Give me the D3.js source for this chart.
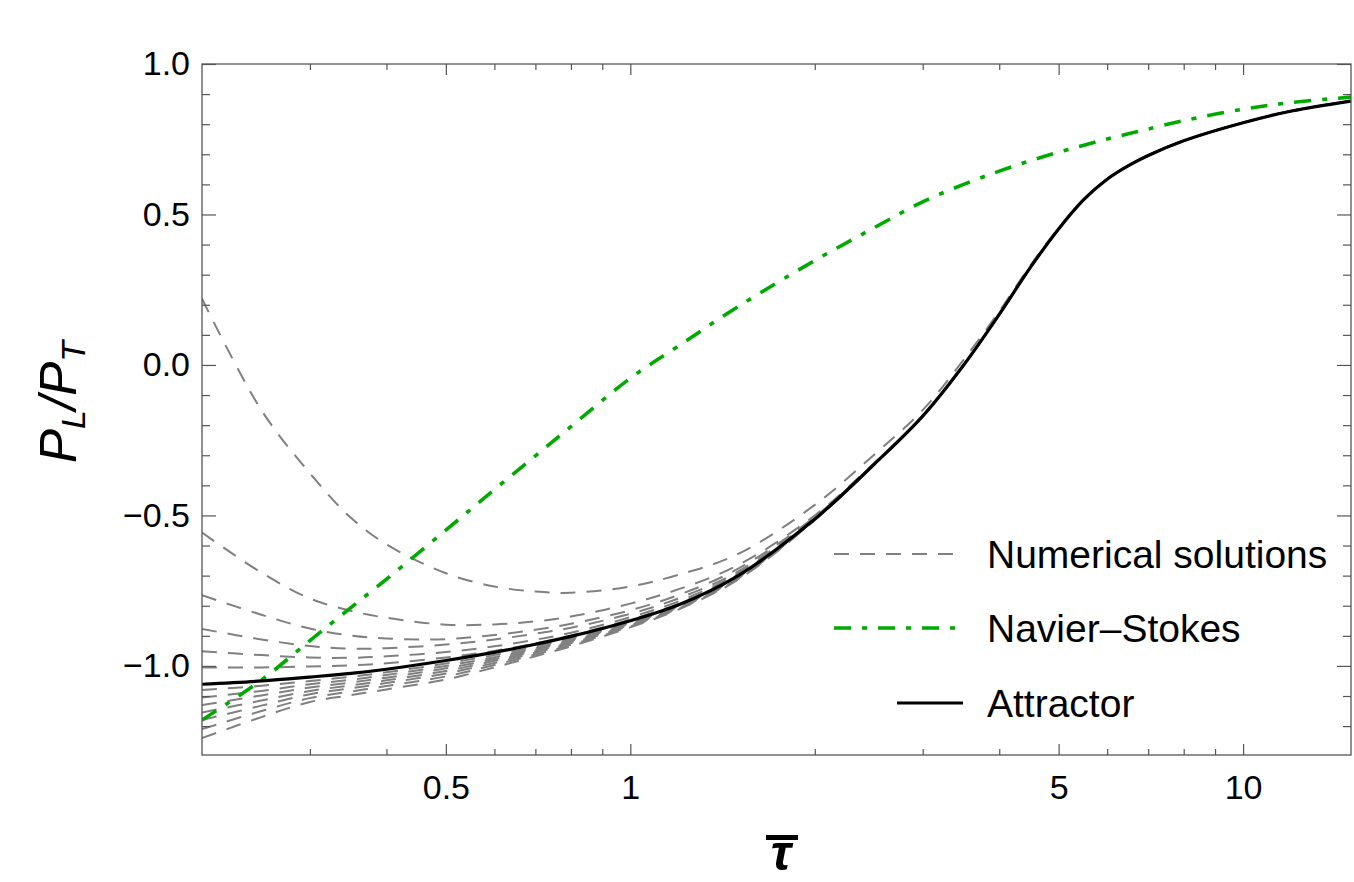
<!DOCTYPE html>
<html>
<head>
<meta charset="utf-8">
<script src="https://cdn.jsdelivr.net/npm/d3@7"></script>
<style>
  body { margin: 0; background: #fff; }
  text { font-family: "Liberation Sans", Arial, Helvetica, sans-serif; }
</style>
</head>
<body>
<div id="chart"></div>
<script>
// tau-bar sample points shared by every curve
const tauGrid = [0.2, 0.25, 0.3, 0.35, 0.4, 0.5, 0.6, 0.7, 0.8, 1, 1.2, 1.5, 2, 2.5, 3, 3.5, 4, 4.5, 5, 5.5, 6, 6.5, 7, 8, 10, 12, 15];

const attractor = [-1.061, -1.050, -1.037, -1.025, -1.011, -0.982, -0.955, -0.928, -0.902, -0.850, -0.797, -0.700,
  -0.512, -0.330, -0.170, 0.000, 0.168, 0.325, 0.452, 0.550, 0.617, 0.662, 0.696, 0.745, 0.805, 0.844, 0.877];

const navierStokes = [-1.180, -1.047, -0.916, -0.806, -0.712, -0.549, -0.414, -0.302, -0.205, -0.044, 0.064, 0.194,
  0.347, 0.456, 0.542, 0.600, 0.644, 0.679, 0.707, 0.730, 0.751, 0.768, 0.784, 0.812, 0.850, 0.872, 0.890];

// numerical solutions: early-time values, afterwards they sit on the attractor
const numericalHeads = [
  [0.220, -0.150, -0.360, -0.508, -0.596, -0.692, -0.736, -0.753, -0.757, -0.736, -0.697, -0.628, -0.465, -0.298, -0.150, 0.018, 0.178, 0.332, 0.455, 0.552, 0.618],
  [-0.557, -0.690, -0.776, -0.817, -0.840, -0.863, -0.862, -0.852, -0.836, -0.793, -0.745, -0.665, -0.500, -0.326],
  [-0.765, -0.830, -0.876, -0.899, -0.909, -0.911, -0.897, -0.880, -0.860, -0.815, -0.764, -0.677, -0.505],
  [-0.877, -0.912, -0.934, -0.943, -0.941, -0.929, -0.912, -0.893, -0.873, -0.827, -0.775, -0.686, -0.508],
  [-0.951, -0.964, -0.972, -0.973, -0.968, -0.954, -0.935, -0.913, -0.890, -0.838, -0.785, -0.692, -0.510],
  [-1.005, -1.005, -1.002, -0.998, -0.991, -0.972, -0.950, -0.925, -0.899, -0.846, -0.793, -0.696, -0.511],
  [-1.080, -1.066, -1.050, -1.036, -1.021, -0.992, -0.964, -0.936, -0.909, -0.855, -0.800, -0.703, -0.513],
  [-1.105, -1.083, -1.061, -1.046, -1.030, -1.000, -0.971, -0.941, -0.913, -0.858, -0.802, -0.705, -0.513],
  [-1.130, -1.098, -1.072, -1.055, -1.039, -1.008, -0.977, -0.946, -0.917, -0.860, -0.804, -0.706, -0.514],
  [-1.155, -1.115, -1.083, -1.065, -1.048, -1.017, -0.983, -0.951, -0.921, -0.863, -0.806, -0.708, -0.514],
  [-1.180, -1.132, -1.094, -1.074, -1.057, -1.025, -0.990, -0.956, -0.925, -0.866, -0.808, -0.709, -0.515],
  [-1.210, -1.150, -1.107, -1.085, -1.067, -1.035, -0.997, -0.962, -0.930, -0.869, -0.810, -0.711, -0.515],
  [-1.240, -1.170, -1.120, -1.097, -1.078, -1.045, -1.005, -0.968, -0.935, -0.872, -0.812, -0.713, -0.516]
];

const xMajorTicks = [0.5, 1, 5, 10];
const xMinorTicks = [0.3, 0.4, 0.6, 0.7, 0.8, 0.9, 2, 3, 4, 6, 7, 8, 9];
const yMajorTicks = [-1, -0.5, 0, 0.5, 1];
const yMinorTicks = [-1.2, -1.1, -0.9, -0.8, -0.7, -0.6, -0.4, -0.3, -0.2, -0.1, 0.1, 0.2, 0.3, 0.4, 0.6, 0.7, 0.8, 0.9];
const legendLabels = ["Numerical solutions", "Navier\u2013Stokes", "Attractor"];

const W = 1354, H = 882;
const plot = { left: 202, right: 1351, top: 64, bottom: 755 };
const frameColor = "#555";
const grayColor = "#808080", greenColor = "#00aa00";

const svg = d3.select("#chart").append("svg")
    .attr("width", W)
    .attr("height", H);

const x = d3.scaleLog().domain([0.2, 15]).range([plot.left, plot.right]);
const y = d3.scaleLinear().domain([-1.296, 1]).range([plot.bottom, plot.top]);

svg.append("defs").append("clipPath").attr("id", "clip")
  .append("rect")
    .attr("x", plot.left).attr("y", plot.top)
    .attr("width", plot.right - plot.left).attr("height", plot.bottom - plot.top);

const line = d3.line()
    .x(d => x(d[0]))
    .y(d => y(d[1]))
    .curve(d3.curveCatmullRom.alpha(0.5));

const curves = svg.append("g").attr("clip-path", "url(#clip)");

// gray dashed numerical solutions
numericalHeads.forEach(head => {
  const vals = head.concat(attractor.slice(head.length));
  curves.append("path")
      .attr("d", line(d3.zip(tauGrid, vals)))
      .attr("fill", "none")
      .attr("stroke", grayColor)
      .attr("stroke-width", 2)
      .attr("stroke-dasharray", "15,11");
});

// Navier-Stokes dot-dashed
curves.append("path")
    .attr("d", line(d3.zip(tauGrid, navierStokes)))
    .attr("fill", "none")
    .attr("stroke", greenColor)
    .attr("stroke-width", 3.6)
    .attr("stroke-dasharray", "17,11,5,11");

// attractor
curves.append("path")
    .attr("d", line(d3.zip(tauGrid, attractor)))
    .attr("fill", "none")
    .attr("stroke", "#000")
    .attr("stroke-width", 3.2);

// frame + inward ticks on all four sides
svg.append("rect")
    .attr("x", plot.left).attr("y", plot.top)
    .attr("width", plot.right - plot.left).attr("height", plot.bottom - plot.top)
    .attr("fill", "none")
    .attr("stroke", frameColor)
    .attr("stroke-width", 1.3);

function tickSet(axis, transform, values, size) {
  svg.append("g")
      .attr("transform", transform)
      .call(axis.tickValues(values).tickSize(size).tickFormat(""))
      .call(g => g.select(".domain").remove())
      .selectAll("line")
      .attr("stroke", frameColor)
      .attr("stroke-width", 1.2);
}

tickSet(d3.axisBottom(x), `translate(0,${plot.bottom})`, xMajorTicks, -11);
tickSet(d3.axisBottom(x), `translate(0,${plot.bottom})`, xMinorTicks, -6);
tickSet(d3.axisTop(x), `translate(0,${plot.top})`, xMajorTicks, -11);
tickSet(d3.axisTop(x), `translate(0,${plot.top})`, xMinorTicks, -6);
tickSet(d3.axisLeft(y), `translate(${plot.left},0)`, yMajorTicks, -14);
tickSet(d3.axisLeft(y), `translate(${plot.left},0)`, yMinorTicks, -8);
tickSet(d3.axisRight(y), `translate(${plot.right},0)`, yMajorTicks, -14);
tickSet(d3.axisRight(y), `translate(${plot.right},0)`, yMinorTicks, -8);

// tick labels
const xLabels = svg.append("g")
    .attr("transform", `translate(0,${plot.bottom})`)
    .call(d3.axisBottom(x).tickValues(xMajorTicks).tickSize(0).tickPadding(20).tickFormat(d3.format("~g")));
xLabels.select(".domain").remove();
xLabels.selectAll("text")
    .attr("font-size", 34)
    .attr("font-family", "'Liberation Sans', Arial, sans-serif")
    .attr("fill", "#000");

const yLabels = svg.append("g")
    .attr("transform", `translate(${plot.left},0)`)
    .call(d3.axisLeft(y).tickValues(yMajorTicks).tickSize(0).tickPadding(12).tickFormat(d3.format(".1f")));
yLabels.select(".domain").remove();
yLabels.selectAll("text")
    .attr("font-size", 34)
    .attr("font-family", "'Liberation Sans', Arial, sans-serif")
    .attr("fill", "#000");

// axis titles
const yTitle = svg.append("text")
    .attr("transform", "translate(76,402) rotate(-90)")
    .attr("text-anchor", "middle")
    .attr("font-size", 51)
    .attr("font-style", "italic");
yTitle.append("tspan").text("P");
yTitle.append("tspan").attr("font-size", 34).attr("dy", 9).text("L");
yTitle.append("tspan").attr("dy", -9).text("/P");
yTitle.append("tspan").attr("font-size", 34).attr("dy", 9).text("T");

svg.append("text")
    .attr("x", 781)
    .attr("y", 870)
    .attr("text-anchor", "middle")
    .attr("font-size", 50)
    .attr("font-style", "italic")
    .attr("font-weight", "bold")
    .text("\u03c4");
svg.append("rect")
    .attr("x", 766).attr("y", 835)
    .attr("width", 32).attr("height", 5)
    .attr("fill", "#000");

// legend
const legendRows = [
  { y: 554, x1: 834, x2: 955, stroke: grayColor, width: 2, dash: "15,11" },
  { y: 628, x1: 834, x2: 955, stroke: greenColor, width: 3.6, dash: "17,11,5,11" },
  { y: 703, x1: 897, x2: 963, stroke: "#000", width: 3.2, dash: null }
];

legendRows.forEach((r, i) => {
  svg.append("line")
      .attr("x1", r.x1).attr("x2", r.x2)
      .attr("y1", r.y).attr("y2", r.y)
      .attr("stroke", r.stroke)
      .attr("stroke-width", r.width)
      .attr("stroke-dasharray", r.dash);
  svg.append("text")
      .attr("x", 987)
      .attr("y", r.y + 14)
      .attr("font-size", 39)
      .attr("fill", "#000")
      .text(legendLabels[i]);
});
</script>
</body>
</html>
